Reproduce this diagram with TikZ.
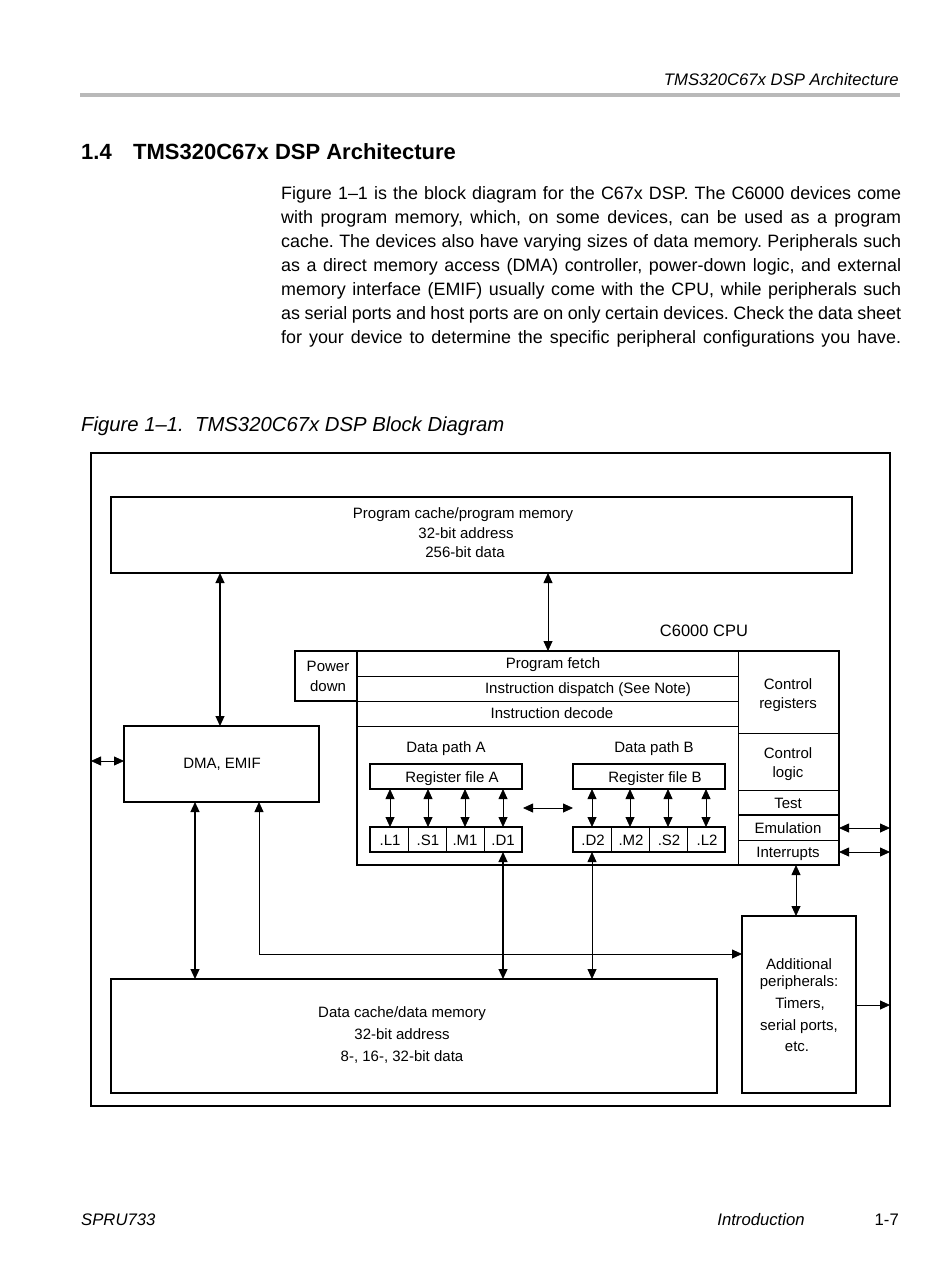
\documentclass[tikz,border=0pt]{standalone}
\usepackage{fontspec}
\setmainfont{Liberation Sans}
\usetikzlibrary{arrows.meta,calc}
\begin{document}
\frenchspacing
\begin{tikzpicture}[x=1pt,y=-1pt,
  box/.style={draw, line width=2.4pt, inner sep=0pt, outer sep=0pt, anchor=north west},
  lbl/.style={font=\fontsize{15}{17}\selectfont, inner sep=0pt, text height=10.8pt, text depth=0pt},
  body/.style={font=\fontsize{17.9}{20}\selectfont, inner sep=0pt, anchor=west, text height=12.9pt, text depth=0pt},
  pagetxt/.style={font=\fontsize{16.7}{19}\itshape, inner sep=0pt, text height=12pt, text depth=0pt},
  divl/.style={line width=0.7pt},
  dar/.style={{Triangle[length=10pt,width=9pt]}-{Triangle[length=10pt,width=9pt]}, line width=0.8pt},
  sar/.style={-{Triangle[length=10pt,width=9pt]}, line width=0.8pt},
  thk/.style={line width=1.2pt}]
\useasboundingbox (0,0) rectangle (950,1284);
\fill[white] (0,0) rectangle (950,1284);

% header
\node[pagetxt, anchor=east] (hdr) at (899,80) {TMS320C67x DSP Architecture};
\draw[line width=3.5pt, gray!55] (80,95) -- (900,95);

% section title
\node[font=\fontsize{22}{24}\bfseries, inner sep=0pt, anchor=west, text height=15.8pt, text depth=0pt] (secnum) at (81,152) {1.4};
\node[font=\fontsize{22}{24}\bfseries, inner sep=0pt, anchor=west, text height=15.8pt, text depth=0pt] (sectitle) at (133,152) {TMS320C67x DSP Architecture};

% paragraph
\node[body] (p1) at (281,193) {\makebox[620pt][s]{Figure 1--1 is the block diagram for the C67x DSP. The C6000 devices come}};
\node[body] (p2) at (281,217) {\makebox[620pt][s]{with program memory, which, on some devices, can be used as a program}};
\node[body] (p3) at (281,241) {\makebox[620pt][s]{cache. The devices also have varying sizes of data memory. Peripherals such}};
\node[body] (p4) at (281,265) {\makebox[620pt][s]{as a direct memory access (DMA) controller, power-down logic, and external}};
\node[body] (p5) at (281,289) {\makebox[620pt][s]{memory interface (EMIF) usually come with the CPU, while peripherals such}};
\node[body] (p6) at (281,313) {\makebox[620pt][s]{as serial ports and host ports are on only certain devices. Check the data sheet}};
\node[body] (p7) at (281,337) {\makebox[620pt][s]{for your device to determine the specific peripheral configurations you have.}};

% caption
\node[font=\fontsize{20.3}{22}\itshape, inner sep=0pt, anchor=west, text height=14.6pt, text depth=0pt] (cap) at (81,424) {Figure 1--1.\ \ TMS320C67x DSP Block Diagram};

% outer box
\node[box, line width=2pt, minimum width=799pt, minimum height=653pt] (outer) at (91,453) {};

% program memory
\node[box, minimum width=741pt, minimum height=76pt] (pm) at (111,497) {};
\node[lbl] (pmt1) at (463,513) {Program cache/program memory};
\node[lbl] (pmt2) at (466,533) {32-bit address};
\node[lbl] (pmt3) at (465,552) {256-bit data};

% CPU
\node[lbl, font=\fontsize{16.5}{19}\selectfont, text height=11.8pt] (cputitle) at (704,631) {C6000 CPU};
\node[box, minimum width=62pt, minimum height=50pt] (pwr) at (295,651) {};
\node[lbl] (pwrt1) at (328,666) {Power};
\node[lbl] (pwrt2) at (328,686) {down};
\node[box, minimum width=482pt, minimum height=214pt] (cpu) at (357,651) {};
\draw[divl] (357,676) -- (738,676);
\draw[divl] (357,701) -- (738,701);
\draw[line width=1pt] (357,726) -- (738,726);
\draw[divl] (738,651) -- (738,865);
\draw[divl] (738,733) -- (839,733);
\draw[divl] (738,790) -- (839,790);
\draw[line width=1.3pt] (738,815) -- (839,815);
\draw[divl] (738,840) -- (839,840);
\node[lbl] (pf) at (553,663) {Program fetch};
\node[lbl] (idisp) at (588,688) {Instruction dispatch (See Note)};
\node[lbl] (idec) at (552,713) {Instruction decode};
\node[lbl] (creg1) at (788,684) {Control};
\node[lbl] (creg2) at (788,703) {registers};
\node[lbl] (clog1) at (788,753) {Control};
\node[lbl] (clog2) at (788,772) {logic};
\node[lbl] (test) at (788,803) {Test};
\node[lbl] (emu) at (788,828) {Emulation};
\node[lbl] (intr) at (788,852) {Interrupts};

% data paths
\node[lbl] (dpa) at (446,747) {Data path A};
\node[lbl] (dpb) at (654,747) {Data path B};
\node[box, minimum width=152pt, minimum height=25pt] (rfa) at (370,764) {};
\node[lbl] (rfat) at (452,777) {Register file A};
\node[box, minimum width=152pt, minimum height=25pt] (rfb) at (573,764) {};
\node[lbl] (rfbt) at (655,777) {Register file B};
\node[box, minimum width=152pt, minimum height=25pt] (ua) at (370,827) {};
\node[box, minimum width=152pt, minimum height=25pt] (ub) at (573,827) {};
\draw[divl] (408,827) -- (408,852);
\draw[divl] (446,827) -- (446,852);
\draw[divl] (484,827) -- (484,852);
\draw[divl] (611,827) -- (611,852);
\draw[divl] (649,827) -- (649,852);
\draw[divl] (687,827) -- (687,852);
\node[lbl] (l1) at (390,840) {.L1};
\node[lbl] (s1) at (428,840) {.S1};
\node[lbl] (m1) at (465,840) {.M1};
\node[lbl] (d1) at (503,840) {.D1};
\node[lbl] (d2) at (593,840) {.D2};
\node[lbl] (m2) at (631,840) {.M2};
\node[lbl] (s2) at (669,840) {.S2};
\node[lbl] (l2) at (707,840) {.L2};

% DMA
\node[box, minimum width=195pt, minimum height=76pt] (dma) at (124,726) {};
\node[lbl] (dmat) at (222,763) {DMA, EMIF};

% additional peripherals
\node[box, minimum width=114pt, minimum height=177pt] (addl) at (742,916) {};
\node[lbl] (addt1) at (799,964) {Additional};
\node[lbl] (addt2) at (799,981) {peripherals:};
\node[lbl] (addt3) at (800,1003) {Timers,};
\node[lbl] (addt4) at (799,1025) {serial ports,};
\node[lbl] (addt5) at (797,1046) {etc.};

% data memory
\node[box, minimum width=606pt, minimum height=114pt] (dm) at (111,979) {};
\node[lbl] (dmt1) at (402,1012) {Data cache/data memory};
\node[lbl] (dmt2) at (402,1034) {32-bit address};
\node[lbl] (dmt3) at (402,1056) {8-, 16-, 32-bit data};

% connector x / y positions
\coordinate (xa) at (220,0);
\coordinate (xb) at (548,0);
\coordinate (xc) at (195,0);
\coordinate (xd) at (259,0);
\coordinate (xe) at (503,0);
\coordinate (xf) at (592,0);
\coordinate (xg) at (796,0);
\coordinate (ya) at (0,761);
\coordinate (yb) at (0,954);
\coordinate (yc) at (0,828);
\coordinate (yd) at (0,852);
\coordinate (ye) at (0,1005);
\coordinate (yx) at (0,808);

% connectors
\draw[dar, thk] (pm.south -| xa) -- (dma.north -| xa);
\draw[dar] (pm.south -| xb) -- (cpu.north -| xb);
\draw[dar] (outer.west |- ya) -- (dma.west |- ya);
\draw[dar, thk] (dma.south -| xc) -- (dm.north -| xc);
\draw[dar] (dma.south -| xd) |- (addl.west |- yb);
\draw[dar, thk] (ua.south -| xe) -- (dm.north -| xe);
\draw[dar] (ub.south -| xf) -- (dm.north -| xf);
\draw[dar] (cpu.south -| xg) -- (addl.north -| xg);
\draw[dar] (cpu.east |- yc) -- (outer.east |- yc);
\draw[dar] (cpu.east |- yd) -- (outer.east |- yd);
\draw[sar] (addl.east |- ye) -- (outer.east |- ye);
\draw[dar] ($(rfa.east |- yx)+(1,0)$) -- (rfb.west |- yx);
\foreach \x in {390,428,465,503}{
  \coordinate (t) at (\x,0);
  \draw[dar] (rfa.south -| t) -- (ua.north -| t);
}
\foreach \x in {592,630,668,706}{
  \coordinate (t) at (\x,0);
  \draw[dar] (rfb.south -| t) -- (ub.north -| t);
}

% footer
\node[pagetxt, anchor=west] (f1) at (81,1219) {SPRU733};
\node[pagetxt] (f2) at (761,1219) {Introduction};
\node[pagetxt, font=\fontsize{16.7}{19}\selectfont, anchor=east] (f3) at (899,1219) {1-7};
\end{tikzpicture}
\end{document}
